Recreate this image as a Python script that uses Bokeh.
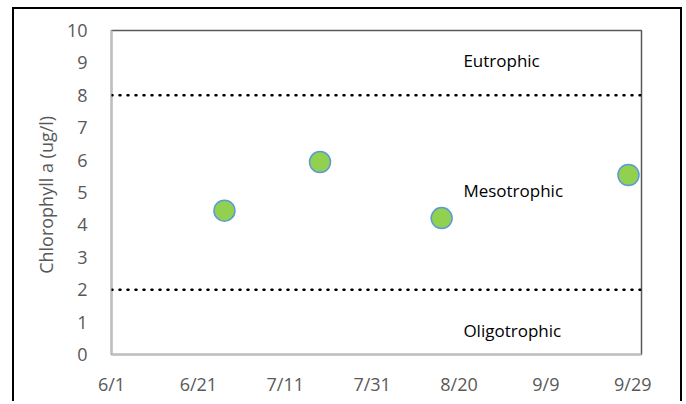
from datetime import datetime
from bokeh.plotting import figure
from bokeh.models import Span, FixedTicker, DatetimeTickFormatter, Range1d, Label
from bokeh.embed import file_html
from bokeh.resources import INLINE

# ---- data ----
sample_dates = ["2023-06-27", "2023-07-19", "2023-08-16", "2023-09-28"]
chl_values = [4.44, 5.94, 4.21, 5.54]
tick_dates = ["2023-06-01", "2023-06-21", "2023-07-11", "2023-07-31",
              "2023-08-20", "2023-09-09", "2023-09-29"]
thresholds = [2, 8]
zone_names = ["Eutrophic", "Mesotrophic", "Oligotrophic"]
zone_y = [9.08, 5.05, 0.75]
zone_x_date = "2023-08-21"
x_start, x_end = "2023-06-01", "2023-10-01"
y_ticks = list(range(0, 11))

def d(s):
    return datetime.strptime(s, "%Y-%m-%d")

def ms(s):
    return (d(s) - datetime(1970, 1, 1)).total_seconds() * 1000.0

FONT = "Open Sans"

p = figure(
    x_axis_type="datetime",
    output_backend="svg", toolbar_location=None,
    frame_width=530, frame_height=324,
    min_border_left=97, min_border_right=39, min_border_top=21, min_border_bottom=47,
    x_range=Range1d(d(x_start), d(x_end)), y_range=Range1d(0, 10),
)
p.margin = (7, 0, 0, 12)
p.styles = {"border-left": "2px solid black", "border-top": "2px solid black",
            "border-right": "2px solid black"}
p.border_fill_color = None
p.border_fill_alpha = 0
p.background_fill_color = "white"

p.xgrid.visible = False
p.ygrid.visible = False
p.outline_line_color = "#595959"
p.outline_line_width = 1.5

for ax in (p.xaxis[0], p.yaxis[0]):
    ax.axis_line_color = "#bfbfbf"
    ax.axis_line_width = 2
    ax.major_tick_line_color = None
    ax.minor_tick_line_color = None
    ax.major_label_text_color = "#595959"
    ax.major_label_text_font = FONT
    ax.major_label_text_font_size = "18px"

p.xaxis.ticker = FixedTicker(ticks=[ms(t) for t in tick_dates])
p.xaxis.formatter = DatetimeTickFormatter(days="%-m/%-d", months="%-m/%-d")
p.xaxis.major_label_standoff = 11
p.yaxis.ticker = FixedTicker(ticks=y_ticks)
p.yaxis.major_label_standoff = 18
p.yaxis.axis_label = "Chlorophyll  a (ug/l)"
p.yaxis.axis_label_text_font = FONT
p.yaxis.axis_label_text_font_size = "18px"
p.yaxis.axis_label_text_font_style = "normal"
p.yaxis.axis_label_text_color = "#595959"
p.yaxis.axis_label_standoff = 6

for t in thresholds:
    p.add_layout(Span(location=t, dimension="width", line_color="black",
                      line_width=2.5, line_dash="1 7", line_cap="round"))

p.scatter([d(s) for s in sample_dates], chl_values, size=21,
          fill_color="#92d050", line_color="#5b9bd5", line_width=1.5)

for name, yv in zip(zone_names, zone_y):
    p.add_layout(Label(x=ms(zone_x_date), y=yv, text=name, text_font=FONT,
                       text_font_size="17px", text_color="black",
                       text_align="left", text_baseline="middle"))

open("out.html", "w").write(file_html(p, INLINE))
